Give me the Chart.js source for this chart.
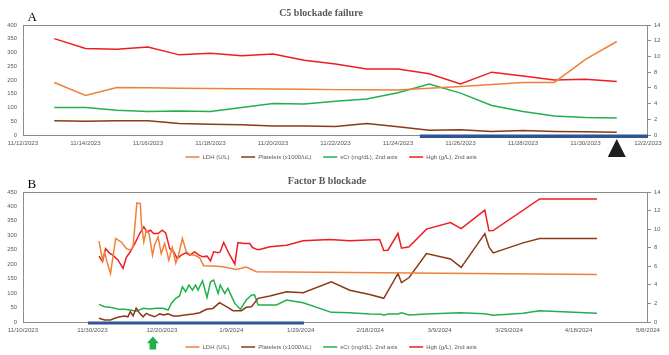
<!DOCTYPE html>
<html><head><meta charset="utf-8">
<script src="https://cdn.jsdelivr.net/npm/chart.js@4.4.1/dist/chart.umd.min.js"></script>
<style>
 body{margin:0;background:#fff;overflow:hidden}
 #wrap{position:relative;width:669px;height:355px;overflow:hidden}
 canvas{position:absolute;left:0}
</style>
</head>
<body>
<div id="wrap">
 <canvas id="chartA" width="669" height="175" style="top:0"></canvas>
 <canvas id="chartB" width="669" height="190" style="top:175px"></canvas>
</div>
<script>
// ---- panel A: C5 blockade failure (x = days after 11/12/2023)
var ticksA = ['11/12/2023','11/14/2023','11/16/2023','11/18/2023','11/20/2023','11/22/2023',
              '11/24/2023','11/26/2023','11/28/2023','11/30/2023','12/2/2023'];
var daysA = [1,2,3,4,5,6,7,8,9,10,11,12,13,14,15,16,17,18,19];
var ldhA = [191,144,173,172,170,169,168,167,166,165,165,164,170,176,184,191,191,275,340];
var pltA = [52,50,52,52,42,39,37,33,33,31,42,30,17,19,13,16,13,12,10];
var scrA = [3.5,3.5,3.15,2.98,3.05,2.98,3.5,4.0,3.96,4.3,4.57,5.37,6.5,5.33,3.76,3.0,2.41,2.24,2.16];
var hgbA = [12.27,11.0,10.9,11.2,10.2,10.4,10.1,10.3,9.5,9.05,8.4,8.4,7.8,6.5,8.0,7.5,7.0,7.1,6.8];
var treatA = [12.7, 20];   // blue bar (days)
var markA = 19;            // black triangle (day)

// ---- panel B: Factor B blockade (x = days after 11/10/2023)
var ticksB = ['11/10/2023','11/30/2023','12/20/2023','1/9/2024','1/29/2024','2/18/2024',
              '3/9/2024','3/29/2024','4/18/2024','5/8/2024'];
var ldhDaysB = [21.9,22.9,23.5,24.2,25.2,26.7,28.3,29.8,30.9,31.7,32.8,33.8,34.1,34.8,35.5,36.3,37.3,37.9,38.9,39.8,
                40.8,42.0,43.0,44.0,44.8,45.9,47.0,48.2,49.4,50.9,52.0,54.7,57.6,61.4,64.3,67.2,165.3];
var ldhB = [280,214,243,208,168,289,277,254,249,260,412,410,341,277,318,306,231,266,295,237,
            272,214,258,204,232,289,245,232,232,222,195,194,191,182,190,174,164];
var pltDaysB = [21.9,23.5,25.2,26.4,27.9,29.3,30.2,30.9,31.7,32.6,33.6,34.6,35.5,36.5,37.9,39.4,40.5,41.8,43.2,44.65,
                46.6,49.0,50.9,52.8,54.7,56.6,58.6,60.5,62.9,64.3,65.8,67.7,71.1,75.9,80.7,88.8,94.1,99.85,103.9,108.0,
                109.0,111.2,116.2,123.1,126.2,133.0,134.2,135.4,144.0,148.8,165.3];
var pltB = [13,7,7,13,18,21,18,36,21,48,30,18,30,24,18,28,24,28,21,21,
            24,28,32,44,47,67,53,39,39,51,53,82,90,105,101,139,110,95,82,168,
            136,154,237,218,189,306,260,239,274,289,289];
var scrDaysB = [21.9,23.5,25.0,26.4,27.8,29.3,30.9,32.6,34.6,36.5,38.4,40.3,41.8,42.7,44.0,45.1,45.9,46.85,47.8,48.8,
                49.7,50.4,51.7,53.0,54.0,54.9,56.2,56.8,58.1,59.0,61.0,62.6,64.3,65.8,66.7,67.7,73.0,75.9,80.7,88.8,
                94.1,99.85,103.2,103.9,105.1,108.0,109.0,111.2,116.2,125.8,133.0,135.4,144.0,148.8,165.3];
var scrB = [1.9,1.65,1.58,1.47,1.36,1.36,1.29,1.15,1.47,1.4,1.47,1.47,1.29,2.0,2.55,2.8,3.8,3.26,3.98,3.44,
            3.98,3.44,4.44,2.65,4.33,4.51,3.08,3.98,3.08,3.62,2.0,1.36,2.37,2.9,2.9,1.83,1.83,2.37,2.08,1.04,
            1.0,0.86,0.83,0.72,0.86,0.86,1.0,0.76,0.86,1.0,0.9,0.72,0.93,1.22,0.93];
var hgbDaysB = [21.9,22.9,23.8,24.8,25.9,27.4,28.8,29.8,30.9,32.2,33.6,34.8,35.7,36.7,37.6,38.9,40.1,41.1,42.25,43.4,
                44.4,45.6,46.9,48.0,49.4,50.7,51.8,53.0,54.0,54.9,56.2,56.8,57.8,59.3,61.0,61.9,63.8,65.3,66.1,67.4,
                68.2,71.1,75.9,80.7,88.3,94.1,102.7,103.9,105.1,108.0,109.0,111.2,116.2,123.1,126.2,133.0,134.2,135.4,148.8,165.3];
var hgbB = [7.1,6.5,7.9,7.45,7.2,6.66,5.77,7.0,7.56,8.45,9.53,10.24,9.7,9.88,9.53,9.53,9.88,9.6,7.9,7.56,
            6.84,7.2,7.45,7.2,7.56,7.2,7.02,7.09,6.59,7.56,7.45,7.56,8.56,7.38,6.23,8.56,8.45,8.45,8.02,7.8,
            7.8,8.1,8.27,8.74,8.88,8.74,8.88,7.7,7.73,9.55,7.95,8.1,10.0,10.7,10.05,12.05,9.82,9.85,13.25,13.25];
var treatB = [18.7, 80.9];
var markB = 37.4;          // green arrow (day)

var C = {ldh:'#F0813A', plt:'#8A3A17', scr:'#22B04B', hgb:'#EE1D24', txt:'#595959', axis:'#8c8c8c', bar:'#2F5597'};
var family = '"Liberation Sans", Arial, sans-serif';
var gap = '\u00a0\u00a0\u00a0\u00a0';   // extra room between legend entries

function pts(xs, ys){ return xs.map(function(x,i){ return {x:x, y:ys[i]}; }); }
function ds(label, xs, ys, color, axis){
  return {label:label + gap, data:pts(xs,ys), borderColor:color, backgroundColor:color,
          borderWidth:1.5, pointRadius:0, tension:0, yAxisID:axis};
}

var decor = {
  id:'decor',
  beforeDatasetsDraw: function(chart){
    var c = chart.ctx, a = chart.chartArea;
    c.save();
    c.strokeStyle = C.axis; c.lineWidth = 1;
    c.strokeRect(Math.round(a.left)+0.5, Math.round(a.top)+0.5, Math.round(a.right-a.left)-1, Math.round(a.bottom-a.top));
    c.restore();
  },
  afterDraw: function(chart, args, o){
    var c = chart.ctx, a = chart.chartArea, xs = chart.scales.x;
    c.save();
    // treatment bar under the axis
    var x0 = xs.getPixelForValue(o.bar[0]), x1 = xs.getPixelForValue(o.bar[1]);
    c.fillStyle = C.bar;
    c.fillRect(x0, a.bottom - 0.5, x1 - x0, o.barH);
    var mx = xs.getPixelForValue(o.mark);
    if (o.markType === 'triangle') {
      c.fillStyle = '#1f1f1f';
      c.beginPath();
      c.moveTo(mx, a.bottom + 4);
      c.lineTo(mx + 9, a.bottom + 22);
      c.lineTo(mx - 9, a.bottom + 22);
      c.closePath(); c.fill();
    } else {
      c.fillStyle = '#22B04B';
      c.beginPath();
      c.moveTo(mx, a.bottom + 14.5);
      c.lineTo(mx + 6, a.bottom + 21.3);
      c.lineTo(mx + 3.3, a.bottom + 21.3);
      c.lineTo(mx + 3.3, a.bottom + 27.5);
      c.lineTo(mx - 3.3, a.bottom + 27.5);
      c.lineTo(mx - 3.3, a.bottom + 21.3);
      c.lineTo(mx - 6, a.bottom + 21.3);
      c.closePath(); c.fill();
    }
    // panel letter and title
    c.fillStyle = '#000';
    c.font = '13px "Liberation Serif", serif';
    c.textBaseline = 'alphabetic'; c.textAlign = 'left';
    c.fillText(o.letter, 27.5, o.letterY);
    c.fillStyle = C.txt;
    c.font = 'bold 10px "Liberation Serif", serif';
    c.textAlign = 'center';
    c.fillText(o.title, o.titleX, o.titleY);
    c.restore();
  }
};

function makeChart(id, datasets, xmax, xstep, tickLabels, leftMax, leftStep, pad, xh, deco){
  return new Chart(document.getElementById(id), {
    type:'line',
    data:{datasets:datasets},
    plugins:[decor],
    options:{
      responsive:false, animation:false, devicePixelRatio:1,
      layout:{padding:pad},
      plugins:{
        decor:deco,
        tooltip:{enabled:false},
        legend:{position:'bottom',
          labels:{usePointStyle:true, pointStyle:'line', pointStyleWidth:14, padding:5,
                  color:C.txt, font:{family:family, size:6}}}
      },
      scales:{
        x:{type:'linear', min:0, max:xmax,
           ticks:{stepSize:xstep, autoSkip:false, maxRotation:0, padding:5, color:C.txt, font:{family:family, size:6.2},
                  callback:function(v){ return tickLabels[Math.round(v/xstep)]; }},
           grid:{display:false, drawTicks:false}, border:{display:false},
           afterFit:function(s){ s.height = xh; }},
        y:{position:'left', min:0, max:leftMax,
           ticks:{stepSize:leftStep, padding:6, color:C.txt, font:{family:family, size:5.8}},
           grid:{display:false, drawTicks:false}, border:{display:false},
           afterFit:function(s){ s.width = 23; }},
        y1:{position:'right', min:0, max:14,
           ticks:{stepSize:2, padding:3, color:C.txt, font:{family:family, size:5.8}},
           grid:{display:true, drawOnChartArea:false, drawTicks:true, tickLength:3, color:C.axis},
           border:{display:false},
           afterFit:function(s){ s.width = 21; }}
      }
    }
  });
}

makeChart('chartA', [
    ds('LDH (U/L)', daysA, ldhA, C.ldh, 'y'),
    ds('Platelets (x1000/uL)', daysA, pltA, C.plt, 'y'),
    ds('sCr (mg/dL), 2nd axis', daysA, scrA, C.scr, 'y1'),
    ds('Hgb (g/L), 2nd axis', daysA, hgbA, C.hgb, 'y1')
  ], 20, 2, ticksA, 400, 50, {top:25, left:0, right:0, bottom:5}, 14,
  {bar:treatA, barH:3.5, mark:markA, markType:'triangle', letter:'A', letterY:21, title:'C5 blockade failure', titleX:321, titleY:16});

makeChart('chartB', [
    ds('LDH (U/L)', ldhDaysB, ldhB, C.ldh, 'y'),
    ds('Platelets (x1000/uL)', pltDaysB, pltB, C.plt, 'y'),
    ds('sCr (mg/dL). 2nd axis', scrDaysB, scrB, C.scr, 'y1'),
    ds('Hgb (g/L), 2nd axis', hgbDaysB, hgbB, C.hgb, 'y1')
  ], 180, 20, ticksB, 450, 50, {top:17, left:0, right:0, bottom:5}, 17,
  {bar:treatB, barH:3, mark:markB, markType:'arrow', letter:'B', letterY:13.3, title:'Factor B blockade', titleX:327, titleY:8.5});
</script>
</body></html>
